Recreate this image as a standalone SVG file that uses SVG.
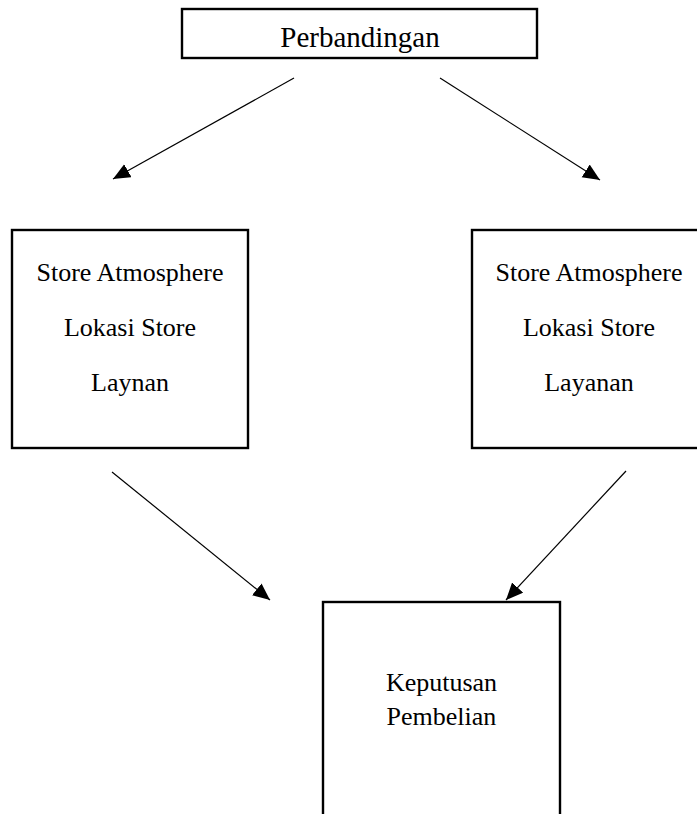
<svg xmlns="http://www.w3.org/2000/svg" width="697" height="814" viewBox="0 0 697 814">
  <style>
    .box { fill: #ffffff; stroke: #000000; stroke-width: 2.4; }
    .txt { font-family: "Liberation Serif", "Times New Roman", serif; font-size: 26px; fill: #000000; text-anchor: middle; }
    .title { font-size: 29px; }
    .conn { stroke: #000000; stroke-width: 1.2; fill: none; marker-end: url(#arrow); }
  </style>
  <defs>
    <marker id="arrow" markerUnits="userSpaceOnUse" markerWidth="20" markerHeight="18" refX="17" refY="7.5" orient="auto">
      <path d="M0,0 L17,7.5 L0,15 z" fill="#000000"/>
    </marker>
  </defs>
  <rect width="697" height="814" fill="#ffffff"/>

  <g id="node-perbandingan">
    <rect class="box" x="182" y="9" width="355" height="49"/>
    <text class="txt title" x="360" y="47">Perbandingan</text>
  </g>

  <g id="node-left">
    <rect class="box" x="12" y="230" width="236" height="218"/>
    <text class="txt" x="130" y="281">Store Atmosphere</text>
    <text class="txt" x="130" y="336">Lokasi Store</text>
    <text class="txt" x="130" y="391">Laynan</text>
  </g>

  <g id="node-right">
    <rect class="box" x="472" y="230" width="236" height="218"/>
    <text class="txt" x="589" y="281">Store Atmosphere</text>
    <text class="txt" x="589" y="336">Lokasi Store</text>
    <text class="txt" x="589" y="391">Layanan</text>
  </g>

  <g id="node-keputusan">
    <rect class="box" x="323" y="602" width="237" height="230"/>
    <text class="txt" x="441.5" y="691">Keputusan</text>
    <text class="txt" x="441.5" y="725">Pembelian</text>
  </g>

  <g id="connectors">
    <line class="conn" x1="294" y1="78" x2="113" y2="179"/>
    <line class="conn" x1="440" y1="78" x2="600" y2="180"/>
    <line class="conn" x1="112" y1="472" x2="270" y2="600"/>
    <line class="conn" x1="626" y1="471" x2="506" y2="600"/>
  </g>
</svg>
